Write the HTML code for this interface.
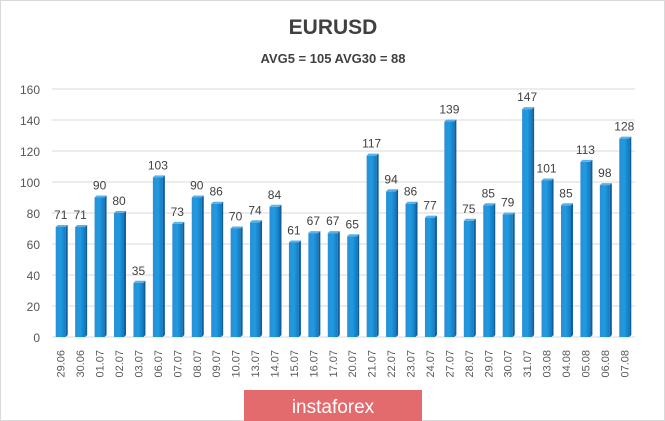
<!DOCTYPE html>
<html><head><meta charset="utf-8"><style>
body{margin:0;background:#fff;}
svg{display:block;font-family:"Liberation Sans",sans-serif;}
</style></head><body>
<svg width="665" height="421" viewBox="0 0 665 421">
<defs>
<linearGradient id="bg" x1="0" y1="0" x2="1" y2="0">
<stop offset="0" stop-color="#2a8fd6"/><stop offset="0.5" stop-color="#1f9be0"/><stop offset="1" stop-color="#1577bf"/>
</linearGradient>
</defs>
<rect x="0.5" y="0.5" width="664" height="420" fill="#fff" stroke="#d9d9d9"/>
<text x="333" y="34" text-anchor="middle" font-size="21" font-weight="bold" fill="#404040">EURUSD</text>
<text x="333" y="63" text-anchor="middle" font-size="13" font-weight="bold" fill="#404040">AVG5 = 105 AVG30 = 88</text>
<g id="grid"></g>
<g id="bars"></g>
<rect x="244" y="390" width="178" height="31" fill="#e36b6e"/>
<text x="333" y="413" text-anchor="middle" font-size="19" fill="#fff">instaforex</text>
</svg>
<script>
const categories=["29.06","30.06","01.07","02.07","03.07","06.07","07.07","08.07","09.07","10.07","13.07","14.07","15.07","16.07","17.07","20.07","21.07","22.07","23.07","24.07","27.07","28.07","29.07","30.07","31.07","03.08","04.08","05.08","06.08","07.08"];
const values=[71,71,90,80,35,103,73,90,86,70,74,84,61,67,67,65,117,94,86,77,139,75,85,79,147,101,85,113,98,128];
const yTicks=[0,20,40,60,80,100,120,140,160];
const NS="http://www.w3.org/2000/svg";
const x0=52,x1=635,yBase=337,yTop=89,yMax=160;
const step=(x1-x0)/categories.length;
function y(v){return yBase-(v/yMax)*(yBase-yTop);}
function xc(i){return x0+step*(i+0.5)-1;}
function mk(tag,attrs,parent){const e=document.createElementNS(NS,tag);for(const k in attrs)e.setAttribute(k,attrs[k]);parent.appendChild(e);return e;}
const grid=document.getElementById('grid'),bars=document.getElementById('bars');
yTicks.forEach(t=>{
 const l=mk('line',{x1:x0,x2:x1,y1:y(t),y2:y(t),stroke:'#d9d9d9','stroke-width':1},grid);
 
 
 const tx=mk('text',{x:40,y:y(t)+5,'text-anchor':'end','font-size':12,fill:'#555'},grid);
 tx.textContent=t;
 
 
});
values.forEach((v,i)=>{
 const cx=xc(i),w=10;
 const g=mk('g',{},bars);
 
 
 mk('rect',{x:cx-w/2,y:y(v),width:w,height:yBase-y(v),fill:'url(#bg)'},g);
 mk('polygon',{points:`${cx-w/2},${y(v)} ${cx+w/2},${y(v)} ${cx+w/2+2},${y(v)-2} ${cx-w/2+2},${y(v)-2}`,fill:'#5ab0ea'},g);
 mk('polygon',{points:`${cx+w/2},${y(v)} ${cx+w/2+2},${y(v)-2} ${cx+w/2+2},${yBase-2} ${cx+w/2},${yBase}`,fill:'#0f5f9c'},g);
 const lb=mk('text',{x:cx,y:y(v)-8,'text-anchor':'middle','font-size':12,fill:'#404040'},bars);
 lb.textContent=v;
 
 
 const cl=mk('text',{transform:`translate(${cx+4},350) rotate(-90)`,'text-anchor':'end','font-size':11,fill:'#595959'},bars);
 cl.textContent=categories[i];
 
 
});
</script>
</body></html>
